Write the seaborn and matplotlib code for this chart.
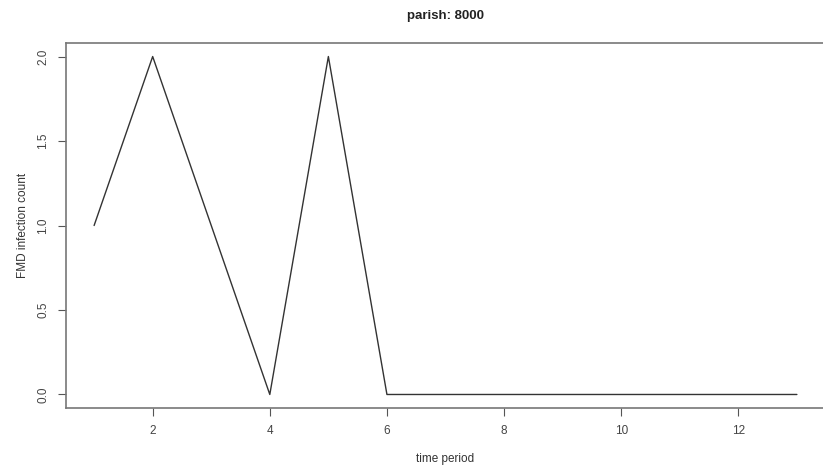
import matplotlib
matplotlib.use("Agg")
import matplotlib.pyplot as plt
import seaborn as sns
import pandas as pd

# data
time_period = [1, 2, 3, 4, 5, 6, 7, 8, 9, 10, 11, 12, 13]
infections = [1, 2, 1, 0, 2, 0, 0, 0, 0, 0, 0, 0, 0]
x_ticks = [2, 4, 6, 8, 10, 12]
y_ticks = [0.0, 0.5, 1.0, 1.5, 2.0]

sns.set_style("white")
plt.rcParams['font.family'] = ['Liberation Sans', 'DejaVu Sans']

df = pd.DataFrame({'time period': time_period, 'count': infections})

fig = plt.figure(figsize=(8.23, 4.68), dpi=100)
ax = fig.add_axes([66 / 823, 1 - 408 / 468, 759 / 823, 365 / 468])

sns.lineplot(data=df, x='time period', y='count', ax=ax, color='#333333', linewidth=1.0)

ax.set_xlim(0.52, 13.48)
ax.set_ylim(-0.08, 2.08)
ax.set_xticks(x_ticks)
ax.set_xticklabels([str(t) for t in x_ticks])
ax.set_yticks(y_ticks)
ax.set_yticklabels([f"{t:.1f}" for t in y_ticks], rotation=90, va='center')

for s in ax.spines.values():
    s.set_color('#777777')
    s.set_linewidth(1.2)
# the right edge of the box falls just outside the image
ax.spines['right'].set_visible(False)

ax.tick_params(axis='both', direction='out', length=6, width=0.8, color='#555555',
               labelsize=8.5, labelcolor='#444444', bottom=True, left=True, pad=6)

ax.set_xlabel('time period', fontsize=8.5, color='#333333', labelpad=12)
ax.set_ylabel('FMD infection count', fontsize=8.5, color='#333333', labelpad=6)
ax.set_title('parish: 8000', fontsize=9.5, fontweight='bold', color='#222222', pad=17)

fig.savefig('out.png', dpi=100)
